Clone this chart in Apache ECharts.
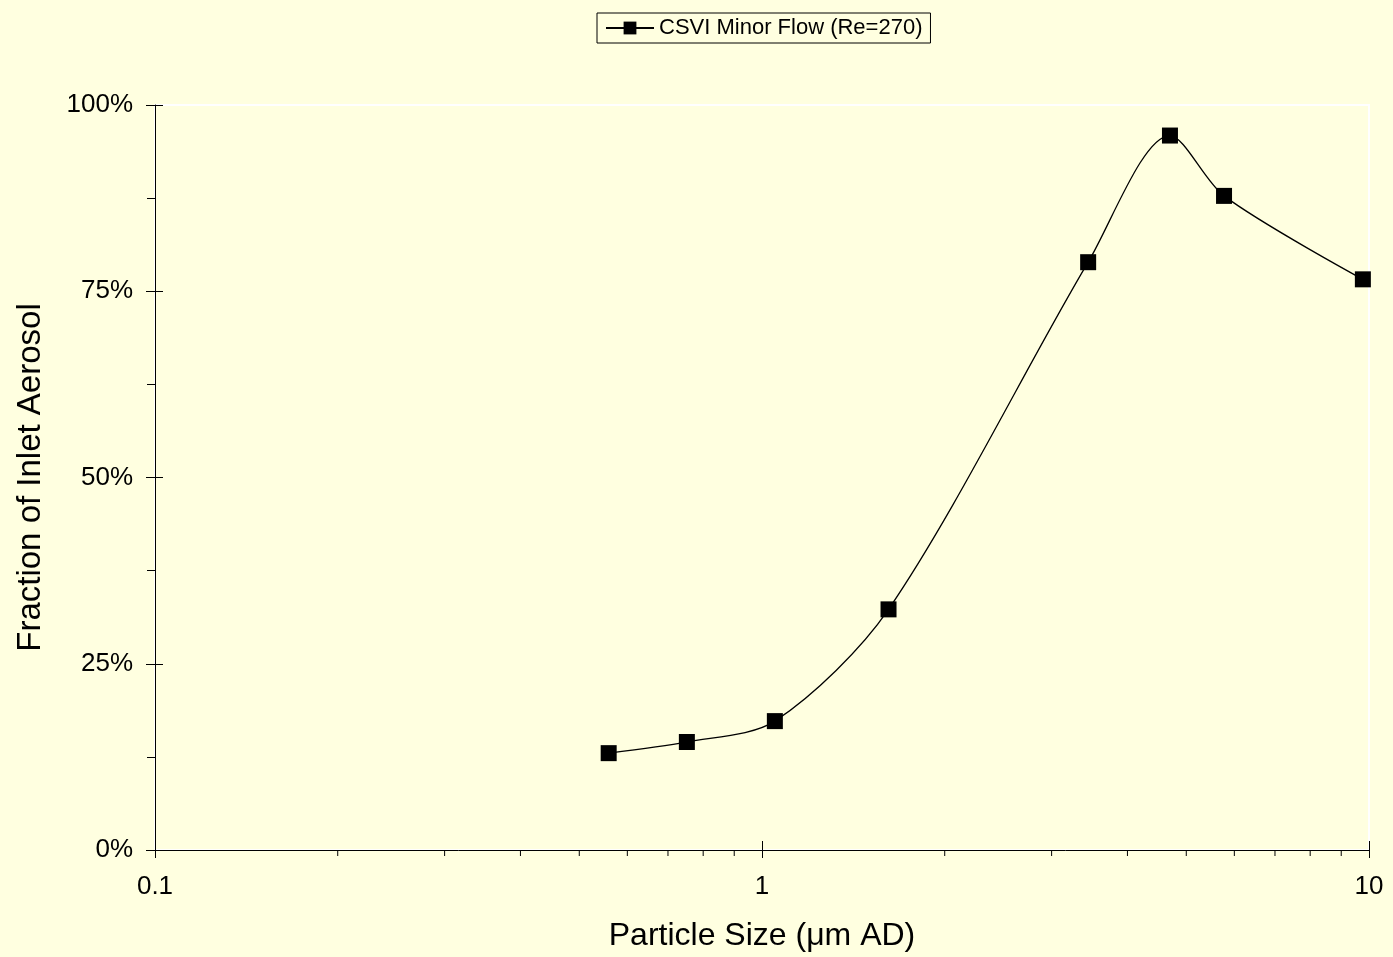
<!DOCTYPE html>
<html>
<head>
<meta charset="utf-8">
<title>CSVI Minor Flow</title>
<script src="https://cdn.jsdelivr.net/npm/echarts@6/dist/echarts.min.js"></script>
<style>
  html, body { margin: 0; padding: 0; background: #FFFFE0; }
  #chart { width: 1393px; height: 957px; }
</style>
</head>
<body>
<div id="chart"></div>
<script>
// Particle size (µm aerodynamic diameter) and fraction of inlet aerosol (%)
const particleSizes = [0.559, 0.752, 1.05, 1.616, 3.446, 4.70, 5.77, 9.77];
const inletFraction = [13.0, 14.5, 17.3, 32.3, 78.9, 95.9, 87.8, 76.6];

// Axis tick values
const xMajorTicks = [0.1, 1, 10];
const xMinorTicks = [0.2, 0.3, 0.4, 0.5, 0.6, 0.7, 0.8, 0.9, 2, 3, 4, 5, 6, 7, 8, 9];
const yTicks = [0, 25, 50, 75, 100];

const seriesName = 'CSVI Minor Flow (Re=270)';
const FONT = '"Liberation Sans", Arial, sans-serif';

const chart = echarts.init(document.getElementById('chart'), null, { renderer: 'canvas' });

const xAxisCommon = {
  type: 'log',
  logBase: 10,
  min: xMajorTicks[0],
  max: xMajorTicks[xMajorTicks.length - 1],
  position: 'bottom',
  splitLine: { show: false }
};

const yAxisCommon = {
  type: 'value',
  min: yTicks[0],
  max: yTicks[yTicks.length - 1],
  interval: 25,
  position: 'left',
  splitLine: { show: false }
};

chart.setOption({
  backgroundColor: '#FFFFE0',
  animation: false,
  textStyle: { fontFamily: FONT, color: '#000' },
  legend: {
    data: [seriesName],
    left: 597,
    top: 13,
    padding: [4, 8, 4, 8],
    itemWidth: 48,
    itemHeight: 16,
    borderColor: '#000',
    borderWidth: 1,
    backgroundColor: '#FFFFE0',
    textStyle: { fontFamily: FONT, fontSize: 22, color: '#000' }
  },
  grid: {
    left: 155,
    right: 24,
    top: 105,
    bottom: 107,
    show: true,
    backgroundColor: '#FFFFE0',
    borderColor: '#FFFFFF',
    borderWidth: 2
  },
  xAxis: [
    Object.assign({}, xAxisCommon, {
      name: 'Particle Size (μm AD)',
      nameLocation: 'middle',
      nameGap: 70,
      nameTextStyle: { fontFamily: FONT, fontSize: 32, color: '#000' },
      axisLine: { show: true, lineStyle: { color: '#000', width: 1 } },
      axisTick: { show: true, inside: false, length: 8, lineStyle: { color: '#000', width: 1 } },
      axisLabel: {
        show: true,
        margin: 24,
        fontFamily: FONT,
        fontSize: 26,
        color: '#000',
        formatter: v => String(v)
      }
    }),
    // inner half of the crossing major ticks
    Object.assign({}, xAxisCommon, {
      axisLine: { show: false },
      axisTick: { show: true, inside: true, length: 9, lineStyle: { color: '#000', width: 1 } },
      axisLabel: { show: false }
    })
  ],
  yAxis: [
    Object.assign({}, yAxisCommon, {
      name: 'Fraction of Inlet Aerosol',
      nameLocation: 'middle',
      nameGap: 108,
      nameTextStyle: { fontFamily: FONT, fontSize: 33, color: '#000' },
      axisLine: { show: true, lineStyle: { color: '#000', width: 1 } },
      axisTick: { show: true, inside: false, length: 9, lineStyle: { color: '#000', width: 1 } },
      minorTick: { show: true, splitNumber: 2, length: 8, lineStyle: { color: '#000', width: 1 } },
      axisLabel: {
        show: true,
        margin: 22,
        fontFamily: FONT,
        fontSize: 26,
        color: '#000',
        formatter: v => v + '%'
      }
    }),
    // inner half of the crossing major ticks
    Object.assign({}, yAxisCommon, {
      axisLine: { show: false },
      axisTick: { show: true, inside: true, length: 8, lineStyle: { color: '#000', width: 1 } },
      axisLabel: { show: false }
    })
  ],
  series: [
    {
      name: seriesName,
      type: 'line',
      xAxisIndex: 0,
      yAxisIndex: 0,
      data: particleSizes.map((s, i) => [s, inletFraction[i]]),
      smooth: 0.3,
      symbol: 'rect',
      symbolSize: 16,
      showAllSymbol: true,
      lineStyle: { color: '#000', width: 1.3 },
      itemStyle: { color: '#000', borderColor: '#000', borderWidth: 0 },
      z: 3
    },
    {
      // minor ticks of the logarithmic x axis (2..9 within each decade)
      name: 'xMinorTicks',
      type: 'custom',
      xAxisIndex: 0,
      yAxisIndex: 0,
      silent: true,
      clip: false,
      data: xMinorTicks.map(v => [v, yTicks[0]]),
      renderItem: function (params, api) {
        const p = api.coord([api.value(0), api.value(1)]);
        return {
          type: 'line',
          shape: { x1: p[0], y1: p[1], x2: p[0], y2: p[1] + 6 },
          style: { stroke: '#000', lineWidth: 1 }
        };
      },
      z: 4
    }
  ]
});
</script>
</body>
</html>
